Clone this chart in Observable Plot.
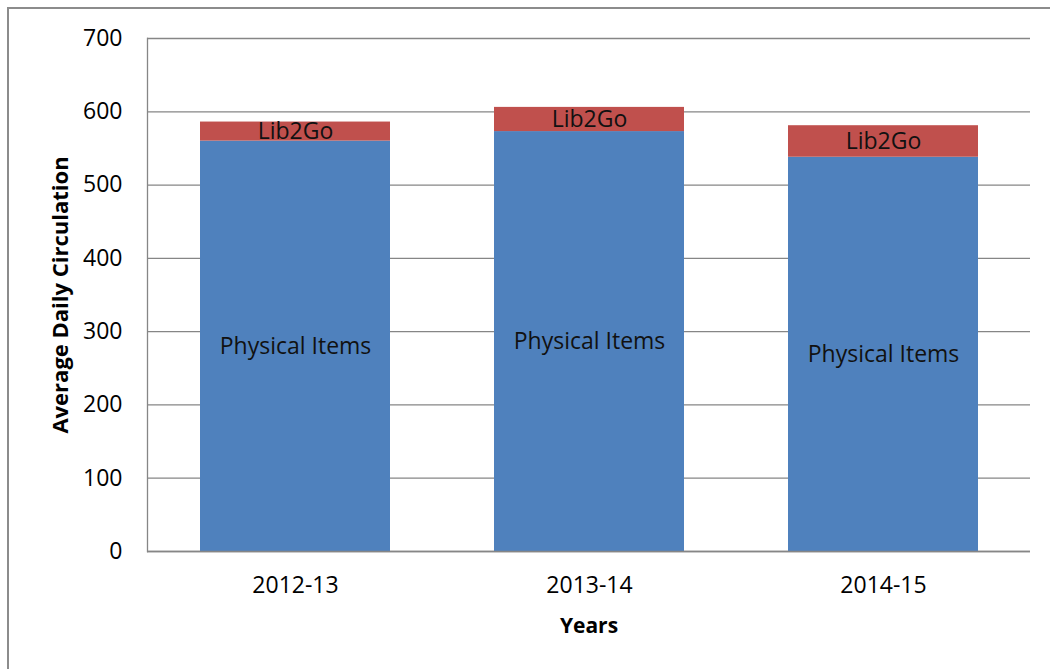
<!DOCTYPE html>
<html>
<head>
<meta charset="utf-8">
<script src="https://cdn.jsdelivr.net/npm/d3@7"></script>
<script src="https://cdn.jsdelivr.net/npm/@observablehq/plot@0.6"></script>
<style>
  html, body { margin: 0; padding: 0; background: #fff; overflow: hidden; }
  #wrap { position: relative; width: 1050px; height: 669px; overflow: hidden; }
  #frame { position: absolute; left: 7px; top: 7px; width: 1100px; height: 700px; border: 2px solid #8c8c8c; box-sizing: border-box; }
  #chart { position: absolute; left: 0; top: 0; }
</style>
</head>
<body>
<div id="wrap"><div id="frame"></div><div id="chart"></div></div>
<script>
const years = ["2012-13", "2013-14", "2014-15"];
const physical = [560, 573, 538];
const lib2go = [26, 33, 43];
const seriesNames = ["Physical Items", "Lib2Go"];
const seriesLabels = ["Physical Items", "Lib2Go"];
const yTicks = [0, 100, 200, 300, 400, 500, 600, 700];

const rows = [];
years.forEach((y, i) => {
  rows.push({year: y, series: seriesNames[0], label: seriesLabels[0], value: physical[i]});
  rows.push({year: y, series: seriesNames[1], label: seriesLabels[1], value: lib2go[i]});
});

const font = "'Open Sans', Lato, sans-serif";
const chart = Plot.plot({
  width: 1050,
  height: 669,
  marginLeft: 147,
  marginRight: 20,
  marginTop: 38,
  marginBottom: 118,
  style: {fontFamily: font, fontSize: "22px", color: "#000", background: "transparent"},
  x: {domain: years, paddingInner: 0.354, paddingOuter: 0.177, label: null},
  y: {domain: [0, 700], label: null},
  color: {domain: seriesNames, range: ["#4F81BD", "#C0504D"]},
  marks: [
    Plot.gridY(yTicks, {stroke: "#868686", strokeOpacity: 1, strokeWidth: 1.3}),
    Plot.barY(rows, Plot.stackY({x: "year", y: "value", fill: "series", z: "series", order: seriesNames})),
    Plot.text(rows, Plot.stackY({x: "year", y: "value", z: "series", text: "label", order: seriesNames, fill: "#111", fontSize: 23, fontFamily: font})),
    Plot.frame({anchor: "left", stroke: "#868686", strokeWidth: 1.3}),
    Plot.ruleY([0], {stroke: "#868686", strokeWidth: 1.3}),
    Plot.axisY(yTicks, {tickSize: 0, tickPadding: 25, fontSize: 23, label: null}),
    Plot.axisX({tickSize: 0, tickPadding: 25, fontSize: 23, label: null}),
    Plot.text(["Average Daily Circulation"], {frameAnchor: "left", textAnchor: "middle", dx: -87, rotate: -90, fontWeight: "bold", fontSize: 22, fill: "#000"}),
    Plot.text(["Years"], {frameAnchor: "bottom", dy: 81, fontWeight: "bold", fontSize: 21, fill: "#000"})
  ]
});
document.getElementById("chart").appendChild(chart);
</script>
</body>
</html>
